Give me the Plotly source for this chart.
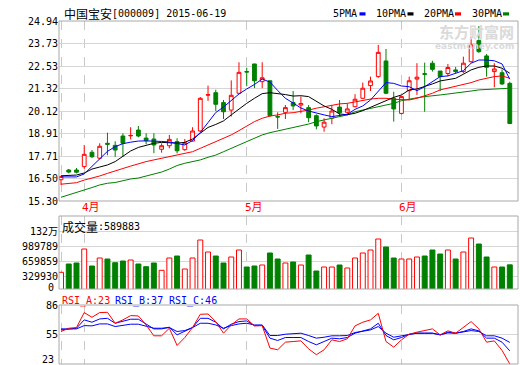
import plotly.graph_objects as go

# ---------------- data ----------------
dates = [
    "2015-03-27", "2015-03-30", "2015-03-31",
    "2015-04-01", "2015-04-02", "2015-04-03", "2015-04-07", "2015-04-08", "2015-04-09", "2015-04-10",
    "2015-04-13", "2015-04-14", "2015-04-15", "2015-04-16", "2015-04-17", "2015-04-20", "2015-04-21",
    "2015-04-22", "2015-04-23", "2015-04-24", "2015-04-27", "2015-04-28", "2015-04-29", "2015-04-30",
    "2015-05-04", "2015-05-05", "2015-05-06", "2015-05-07", "2015-05-08", "2015-05-11", "2015-05-12",
    "2015-05-13", "2015-05-14", "2015-05-15", "2015-05-18", "2015-05-19", "2015-05-20", "2015-05-21",
    "2015-05-22", "2015-05-25", "2015-05-26", "2015-05-27", "2015-05-28", "2015-05-29",
    "2015-06-01", "2015-06-02", "2015-06-03", "2015-06-04", "2015-06-05", "2015-06-08", "2015-06-09",
    "2015-06-10", "2015-06-11", "2015-06-12", "2015-06-15", "2015-06-16", "2015-06-17", "2015-06-18",
    "2015-06-19",
]
open_p = [16.44, 16.96, 16.96, 17.14, 17.91, 17.59, 18.39, 18.28, 18.78, 18.79, 19.10, 18.67, 18.62, 18.07,
          18.26, 18.48, 18.05, 18.51, 19.05, 20.97, 21.10, 20.57, 20.17, 21.07, 22.23, 22.64, 21.69, 21.74,
          19.82, 20.05, 20.57, 20.44, 20.30, 19.87, 19.26, 19.73, 20.33, 20.05, 20.35, 20.80, 21.48, 21.96,
          22.80, 20.80, 19.99, 21.21, 21.83, 22.12, 22.68, 22.26, 22.13, 22.32, 22.23, 22.76, 23.89, 23.07,
          22.23, 22.17, 21.60]
high_p = [16.62, 17.01, 17.07, 18.30, 18.03, 18.39, 18.96, 18.50, 18.93, 19.25, 19.32, 18.93, 18.93, 18.39,
          18.84, 18.66, 18.62, 19.25, 20.87, 21.48, 21.26, 20.71, 21.76, 22.73, 22.44, 22.64, 22.73, 21.74,
          20.05, 20.44, 21.19, 20.90, 20.44, 19.94, 19.73, 20.44, 20.71, 20.53, 21.02, 21.64, 21.96, 23.66,
          23.44, 21.15, 20.92, 21.96, 22.68, 22.71, 22.81, 22.26, 22.64, 22.48, 23.03, 24.10, 24.67, 23.17,
          22.68, 22.35, 21.69]
low_p = [16.16, 16.78, 16.78, 17.03, 17.60, 17.53, 17.75, 17.67, 17.67, 18.60, 18.71, 18.34, 17.86, 17.89,
         18.12, 17.85, 17.99, 18.48, 19.01, 20.66, 20.12, 19.69, 19.82, 21.03, 21.45, 21.35, 21.34, 19.82,
         19.16, 19.69, 20.17, 20.00, 19.52, 19.14, 19.01, 19.41, 19.82, 19.91, 20.32, 20.76, 21.19, 21.90,
         21.02, 19.55, 19.94, 20.71, 20.98, 20.08, 22.23, 21.19, 21.98, 22.14, 22.14, 22.71, 23.23, 21.96,
         21.39, 21.51, 19.45]
close_p = [16.62, 16.85, 16.84, 17.80, 17.67, 18.23, 18.34, 18.03, 18.39, 18.81, 18.78, 18.53, 18.30, 18.26,
           18.60, 17.99, 18.42, 19.05, 20.80, 20.99, 20.48, 20.08, 20.96, 22.19, 22.21, 21.74, 21.90, 19.87,
           19.80, 20.30, 20.39, 20.52, 19.76, 19.32, 19.52, 20.12, 20.03, 20.23, 20.75, 21.34, 21.73, 23.26,
           21.07, 20.23, 20.89, 21.74, 21.93, 22.09, 22.35, 21.96, 22.45, 22.23, 22.68, 23.66, 23.30, 22.46,
           22.37, 21.57, 19.45]
ma5 = [16.59, 16.59, 16.59, 16.75, 17.14, 17.56, 17.96, 18.21, 18.37, 18.45, 18.51, 18.52, 18.52, 18.49,
       18.46, 18.39, 18.30, 18.54, 18.97, 19.50, 20.04, 20.33, 20.66, 21.03, 21.30, 21.54, 21.83, 21.67,
       21.22, 20.80, 20.55, 20.28, 20.12, 20.00, 19.91, 19.82, 19.87, 19.94, 20.21, 20.39, 20.71, 21.15,
       21.64, 21.60, 21.46, 21.42, 21.21, 21.42, 21.69, 21.96, 22.00, 22.14, 22.28, 22.68, 22.85, 22.85,
       22.81, 22.64, 21.82]
ma10 = [16.65, 16.67, 16.69, 16.80, 17.01, 17.12, 17.23, 17.41, 17.71, 17.98, 18.17, 18.27, 18.39, 18.44,
        18.42, 18.40, 18.44, 18.62, 18.93, 19.24, 19.40, 19.59, 19.91, 20.23, 20.53, 20.80, 21.05, 21.10,
        21.07, 21.00, 20.92, 20.94, 20.89, 20.62, 20.39, 20.21, 19.96, 19.92, 20.00, 20.14, 20.32, 20.53,
        20.71, 20.85, 20.98, 21.25, 21.30, 21.42, 21.57, 21.73, 21.82, 21.87, 22.09, 22.32, 22.46, 22.53,
        22.53, 22.41, 22.14]
ma20 = [16.20, 16.25, 16.28, 16.42, 16.52, 16.64, 16.78, 16.93, 17.04, 17.17, 17.30, 17.41, 17.50, 17.59,
        17.66, 17.73, 17.82, 17.94, 18.12, 18.30, 18.48, 18.66, 18.84, 19.07, 19.32, 19.55, 19.73, 19.85,
        19.91, 20.00, 20.03, 20.08, 20.17, 20.27, 20.35, 20.44, 20.50, 20.53, 20.62, 20.71, 20.76, 20.80,
        20.80, 20.75, 20.71, 20.71, 20.80, 20.92, 21.07, 21.25, 21.34, 21.46, 21.51, 21.64, 21.78, 21.87,
        21.96, 22.00, 21.87]
ma30 = [15.50, 15.62, 15.76, 15.89, 16.02, 16.16, 16.25, 16.29, 16.40, 16.48, 16.53, 16.64, 16.75, 16.85,
        17.01, 17.20, 17.32, 17.41, 17.50, 17.64, 17.76, 17.94, 18.12, 18.30, 18.48, 18.66, 18.84, 18.96,
        19.05, 19.14, 19.25, 19.32, 19.42, 19.55, 19.64, 19.73, 19.82, 19.91, 20.08, 20.17, 20.27, 20.35,
        20.44, 20.53, 20.67, 20.76, 20.83, 20.89, 20.92, 20.98, 21.03, 21.07, 21.12, 21.19, 21.25, 21.28,
        21.30, 21.32, 21.34]
volume = [426300, 608200, 630100, 937000, 564400, 739700, 717800, 636700, 674000, 695900, 608200, 549000,
          630100, 470100, 739700, 783600, 498600, 739700, 1134300, 871200, 783600, 630100, 761700, 915100,
          542500, 564400, 586300, 849300, 717800, 630100, 652100, 586300, 805500, 454800, 542500, 542500,
          586300, 520600, 739700, 849300, 915100, 1156200, 980800, 739700, 717800, 717800, 761700, 783600,
          915100, 827400, 915100, 717800, 871200, 1178100, 1046600, 761700, 542500, 542500, 589883]
rsi_a = [57.7, 61.2, 61.9, 77.9, 72.9, 77.9, 78.2, 66.5, 70.1, 74.7, 74.3, 64.7, 53.1, 53.1, 61.2, 42.8,
         51.3, 61.9, 76.1, 76.4, 68.3, 55.9, 64.7, 71.1, 71.1, 63.7, 64.0, 40.0, 38.2, 46.3, 47.0, 47.7,
         39.2, 32.9, 38.2, 48.8, 47.0, 49.9, 63.7, 67.6, 70.1, 77.1, 47.0, 41.0, 48.8, 54.8, 57.0, 58.4,
         60.5, 54.1, 58.4, 55.9, 61.9, 68.3, 60.5, 46.3, 47.7, 37.5, 23.0]
rsi_b = [59.4, 60.5, 61.2, 70.1, 67.6, 71.1, 71.8, 66.5, 68.3, 70.8, 70.8, 65.5, 60.5, 60.5, 62.3, 54.1,
         57.7, 61.9, 71.8, 71.8, 67.6, 60.5, 65.5, 68.3, 69.0, 64.0, 64.0, 50.6, 48.1, 51.3, 51.3, 51.3,
         47.0, 43.5, 47.0, 50.6, 49.9, 51.3, 55.9, 58.4, 60.5, 66.5, 53.4, 48.8, 51.3, 54.8, 55.9, 55.9,
         55.9, 54.1, 57.0, 55.9, 57.7, 60.5, 58.4, 50.6, 50.6, 46.3, 37.0]
rsi_c = [60.5, 60.5, 60.5, 64.0, 63.7, 65.8, 65.8, 63.0, 64.0, 65.5, 65.5, 63.0, 61.2, 61.2, 61.9, 57.7,
         58.7, 61.9, 66.5, 66.5, 64.7, 61.2, 64.0, 65.8, 66.5, 64.7, 64.7, 53.4, 53.4, 54.8, 55.2, 55.9,
         53.4, 50.6, 51.6, 53.1, 53.1, 53.4, 56.6, 58.4, 59.4, 63.0, 55.9, 51.6, 53.1, 55.2, 55.9, 55.9,
         55.9, 54.1, 56.2, 55.9, 57.0, 58.7, 57.7, 53.1, 53.1, 50.6, 46.0]

price_ticks = [15.30, 16.50, 17.71, 18.91, 20.12, 21.32, 22.53, 23.73, 24.94]
vol_ticks = [329930, 659859, 989789, 1319718]
vol_tick_text = ["329930", "659859", "989789", "132万"]
rsi_ticks = [55, 86]
rsi_bottom_label = "23"
grid_dates = ["2015-03-27", "2015-04-01", "2015-05-04", "2015-06-01"]
month_dates = ["2015-04-01", "2015-05-04", "2015-06-01"]
month_labels = ["4月", "5月", "6月"]
stock_name = "中国宝安"
stock_code = "[000009] 2015-06-19"
ma_names = ["5PMA", "10PMA", "20PMA", "30PMA"]

# ---------------- styling / layout helpers ----------------
W, H = 520, 365
L, R, T, B = 59, 2, 21, 1
PW, PH = W - L - R, H - T - B


def px(x):
    return (x - L) / PW


def py(y):
    return (H - B - y) / PH


RED = "#ff0000"
GREEN = "#008000"
BLUE = "#0000ff"
BLACK = "#000000"
GRID = "#d6d6d6"
VGRID = "#c8c8c8"
FRAME = "#a8a8a8"
MONO = "DejaVu Sans Mono, Liberation Mono, monospace"
CJK = "Noto Sans CJK SC, sans-serif"
MIXED = "DejaVu Sans Mono, Noto Sans CJK SC, monospace"

dom_main = [py(201), py(21)]
dom_vol = [py(289), py(216)]
dom_rsi = [0.0, py(305)]

# volume axis: 21918 units per pixel, 0 lies just below the panel bottom
vol_per_px = 21918
vol_zero_y = 291.75
vol_range = [(vol_zero_y - 289) * vol_per_px, (vol_zero_y - 216) * vol_per_px]

fig = go.Figure()

fig.add_trace(go.Candlestick(
    x=dates, open=open_p, high=high_p, low=low_p, close=close_p,
    increasing=dict(line=dict(color=RED, width=1), fillcolor="#ffffff"),
    decreasing=dict(line=dict(color=GREEN, width=1), fillcolor=GREEN),
    whiskerwidth=0, xaxis="x", yaxis="y", hoverinfo="skip",
))
for vals, col in [(ma30, GREEN), (ma20, RED), (ma10, BLACK), (ma5, BLUE)]:
    fig.add_trace(go.Scatter(x=dates, y=vals, mode="lines", line=dict(color=col, width=1),
                             xaxis="x", yaxis="y", hoverinfo="skip"))

up = [c >= o for o, c in zip(open_p, close_p)]
fig.add_trace(go.Bar(
    x=dates, y=volume, width=0.64,
    marker=dict(color=["#ffffff" if u else GREEN for u in up],
                line=dict(color=[RED if u else GREEN for u in up], width=1)),
    xaxis="x2", yaxis="y2", hoverinfo="skip",
))

for vals, col in [(rsi_c, BLUE), (rsi_b, BLUE), (rsi_a, RED)]:
    fig.add_trace(go.Scatter(x=dates, y=vals, mode="lines", line=dict(color=col, width=1),
                             xaxis="x3", yaxis="y3", hoverinfo="skip"))

xcommon = dict(type="category", range=[-0.26, 59.06], showticklabels=False, ticks="",
               tickvals=grid_dates, showgrid=True, gridcolor=VGRID, griddash="dash", gridwidth=1,
               zeroline=False, showline=False, fixedrange=True)
ycommon = dict(showgrid=True, gridcolor=GRID, gridwidth=1, zeroline=False, showline=False, ticks="",
               tickfont=dict(family=MONO, size=10, color=BLACK), automargin=False, fixedrange=True)

annotations = []
shapes = []

# title
annotations.append(dict(x=px(62), y=py(14), xref="paper", yref="paper", xanchor="left", yanchor="middle",
                        text=stock_name, showarrow=False, font=dict(family=CJK, size=12, color=BLACK)))
annotations.append(dict(x=px(110), y=py(14), xref="paper", yref="paper", xanchor="left", yanchor="middle",
                        text=stock_code, showarrow=False, font=dict(family=MONO, size=10, color=BLACK)))
# legend
leg_text_x = [331, 374, 421.5, 469.5]
leg_box_x = [359.5, 407.5, 455, 503]
for name, tx, bx, col in zip(ma_names, leg_text_x, leg_box_x, [BLUE, BLACK, RED, GREEN]):
    annotations.append(dict(x=px(tx), y=py(14), xref="paper", yref="paper", xanchor="left",
                            yanchor="middle", text=name, showarrow=False,
                            font=dict(family=MONO, size=10, color=BLACK)))
    shapes.append(dict(type="rect", xref="paper", yref="paper", x0=px(bx), x1=px(bx + 6),
                       y0=py(15.5), y1=py(12.3), fillcolor=col, line=dict(width=0)))
# watermark
annotations.append(dict(x=px(516), y=py(32), xref="paper", yref="paper", xanchor="right", yanchor="middle",
                        text="<b>东方财富网</b>", showarrow=False,
                        font=dict(family=CJK, size=15, color="#dadada")))
annotations.append(dict(x=px(516), y=py(46), xref="paper", yref="paper", xanchor="right", yanchor="middle",
                        text="<b>eastmoney.com</b>", showarrow=False,
                        font=dict(family="DejaVu Sans", size=9, color="#dadada")))
# month labels
for d, lab in zip(month_dates, month_labels):
    annotations.append(dict(x=d, y=py(207), xref="x", yref="paper", xanchor="left", yanchor="middle",
                            xshift=-4, text=lab, showarrow=False,
                            font=dict(family=MIXED, size=11, color=RED)))
# volume label
annotations.append(dict(x=px(60), y=py(226), xref="paper", yref="paper", xanchor="left", yanchor="middle",
                        text="成交量", showarrow=False, font=dict(family=CJK, size=12, color=BLACK)))
annotations.append(dict(x=px(96), y=py(226), xref="paper", yref="paper", xanchor="left", yanchor="middle",
                        text=":" + str(volume[-1]), showarrow=False,
                        font=dict(family=MONO, size=10, color=BLACK)))
annotations.append(dict(x=px(56), y=py(287), xref="paper", yref="paper", xanchor="right", yanchor="middle",
                        text="0", showarrow=False, font=dict(family=MONO, size=10, color=BLACK)))
# RSI labels
rsi_lab = [("RSI_A:%d" % round(rsi_a[-1]), RED, 60), ("RSI_B:%d" % round(rsi_b[-1]), BLUE, 113),
           ("RSI_C:%d" % round(rsi_c[-1]), BLUE, 166.5)]
for txt, col, xx in rsi_lab:
    annotations.append(dict(x=px(xx), y=py(300.5), xref="paper", yref="paper", xanchor="left",
                            yanchor="middle", text=txt, showarrow=False,
                            font=dict(family=MONO, size=10, color=col)))
annotations.append(dict(x=px(56), y=py(359), xref="paper", yref="paper", xanchor="right", yanchor="middle",
                        text=rsi_bottom_label, showarrow=False, font=dict(family=MONO, size=10, color=BLACK)))

# panel frames
for top, bot in [(21, 201), (216, 289), (305, 364)]:
    shapes.append(dict(type="rect", xref="paper", yref="paper", x0=0, x1=1, y0=py(bot), y1=py(top),
                       line=dict(color=FRAME, width=1), fillcolor="rgba(0,0,0,0)", layer="above"))

fig.update_layout(
    width=W, height=H, margin=dict(l=L, r=R, t=T, b=B, pad=0),
    paper_bgcolor="#ffffff", plot_bgcolor="#ffffff", showlegend=False,
    xaxis=dict(xcommon, domain=[0, 1], anchor="y", rangeslider=dict(visible=False)),
    xaxis2=dict(xcommon, domain=[0, 1], anchor="y2", matches="x"),
    xaxis3=dict(xcommon, domain=[0, 1], anchor="y3", matches="x"),
    yaxis=dict(ycommon, domain=dom_main, range=[15.30, 24.94], tickvals=price_ticks,
               ticktext=["%.2f" % v for v in price_ticks]),
    yaxis2=dict(ycommon, domain=dom_vol, range=vol_range, tickvals=vol_ticks, ticktext=vol_tick_text,
                tickfont=dict(family=MIXED, size=10, color=BLACK)),
    yaxis3=dict(ycommon, domain=dom_rsi, range=[23, 86], tickvals=rsi_ticks,
                ticktext=[str(v) for v in rsi_ticks]),
    annotations=annotations, shapes=shapes,
    bargap=0,
)

fig.write_html(
    "out.html",
    config={"displayModeBar": False, "staticPlot": True},
    post_script="document.body.style.margin='0';document.body.style.overflow='hidden';",
)
